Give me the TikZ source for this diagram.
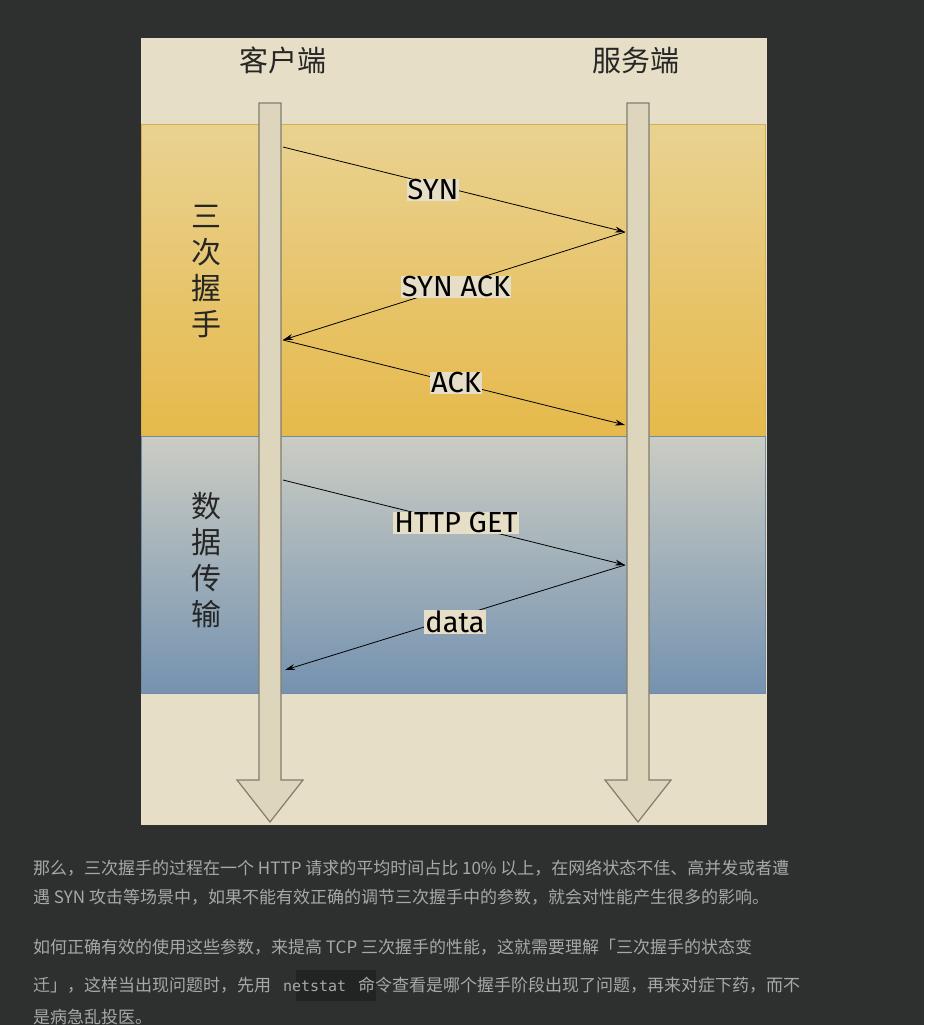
\documentclass[tikz,border=0pt]{standalone}
\usepackage{fontspec}
\usetikzlibrary{arrows.meta}
\setmainfont{Liberation Sans}
\newfontfamily\cjk{Noto Sans CJK SC}
\newfontfamily\lbl{Fira Sans}
\newfontfamily\mono{DejaVu Sans Mono}
\definecolor{bgd}{HTML}{2E2F2F}
\definecolor{panel}{HTML}{E6DEC6}
\definecolor{shaft}{HTML}{DDD5BC}
\definecolor{txt}{HTML}{A8A8A8}
\tikzset{x=1pt,y=-1pt,
 msg/.style={draw=black,thick,-{Stealth[length=10pt,width=6pt]}},
 lab/.style={fill=panel,inner sep=1pt,font=\lbl\fontsize{29}{30}\selectfont},
 vert/.style={font=\cjk\fontsize{30}{36}\selectfont,align=center,text=black!85},
 head/.style={font=\cjk\fontsize{29}{30}\selectfont,text=black!85},
 para/.style={anchor=west,inner sep=0pt,text=txt,font=\cjk\fontsize{17}{20}\selectfont}}
\begin{document}
\begin{tikzpicture}
\useasboundingbox (0,0) rectangle (924,1025);
\clip (0,0) rectangle (924,1025);
\fill[bgd] (0,0) rectangle (924,1025);
\fill[panel] (141,38) rectangle (767,825);
\shade[top color={rgb,255:red,233;green,210;blue,145}, bottom color={rgb,255:red,230;green,185;blue,75}, draw={rgb,255:red,212;green,175;blue,85}] (141,124) rectangle (765,436);
\shade[top color={rgb,255:red,203;green,205;blue,195}, bottom color={rgb,255:red,117;green,146;blue,176}, draw={rgb,255:red,110;green,140;blue,170}] (141,436) rectangle (765,693);
\path[draw={rgb,255:red,130;green,124;blue,110},fill=shaft,line width=1.2pt] (259,103) -- (281,103) -- (281,780) -- (303,780) -- (270,822) -- (237,780) -- (259,780) -- cycle;
\path[draw={rgb,255:red,130;green,124;blue,110},fill=shaft,line width=1.2pt] (627,103) -- (649,103) -- (649,780) -- (671,780) -- (638,822) -- (605,780) -- (627,780) -- cycle;
\node[head] (cl) at (283,60) {客户端};
\node[head] (sv) at (636,60) {服务端};
\node[vert] (v1) at (206,272) {三\\次\\握\\手};
\node[vert] (v2) at (206,560) {数\\据\\传\\输};
\coordinate (c1) at (283,147);
\coordinate (s1) at (625,232);
\coordinate (c2) at (283,340);
\coordinate (s2) at (625,425);
\coordinate (c3) at (283,480);
\coordinate (s3) at (625,565);
\coordinate (c4) at (285,670);
\draw[msg] (c1) -- (s1);
\draw[msg] (s1) -- (c2);
\draw[msg] (c2) -- (s2);
\draw[msg] (c3) -- (s3);
\draw[msg] (s3) -- (c4);
\node[lab] (l1) at (433,190) {SYN};
\node[lab] (l2) at (456,287) {SYN ACK};
\node[lab] (l3) at (456,383) {ACK};
\node[lab] (l4) at (456,523) {HTTP GET};
\node[lab] (l5) at (455,622) {data};
\node[para] (p1) at (33,868) {那么，三次握手的过程在一个 HTTP 请求的平均时间占比 10\% 以上，在网络状态不佳、高并发或者遭};
\node[para] (p2) at (33,897) {遇 SYN 攻击等场景中，如果不能有效正确的调节三次握手中的参数，就会对性能产生很多的影响。};
\node[para] (p3) at (33,947) {如何正确有效的使用这些参数，来提高 TCP 三次握手的性能，这就需要理解「三次握手的状态变};
\fill[black!25!bgd] (296,970) rectangle (376,1001);
\node[para] (p4) at (33,985) {迁」，这样当出现问题时，先用 \hspace{8pt}{\mono\fontsize{15}{18}\selectfont netstat}\hspace{8pt} 命令查看是哪个握手阶段出现了问题，再来对症下药，而不};
\node[para] (p5) at (33,1017) {是病急乱投医。};
\end{tikzpicture}
\end{document}
